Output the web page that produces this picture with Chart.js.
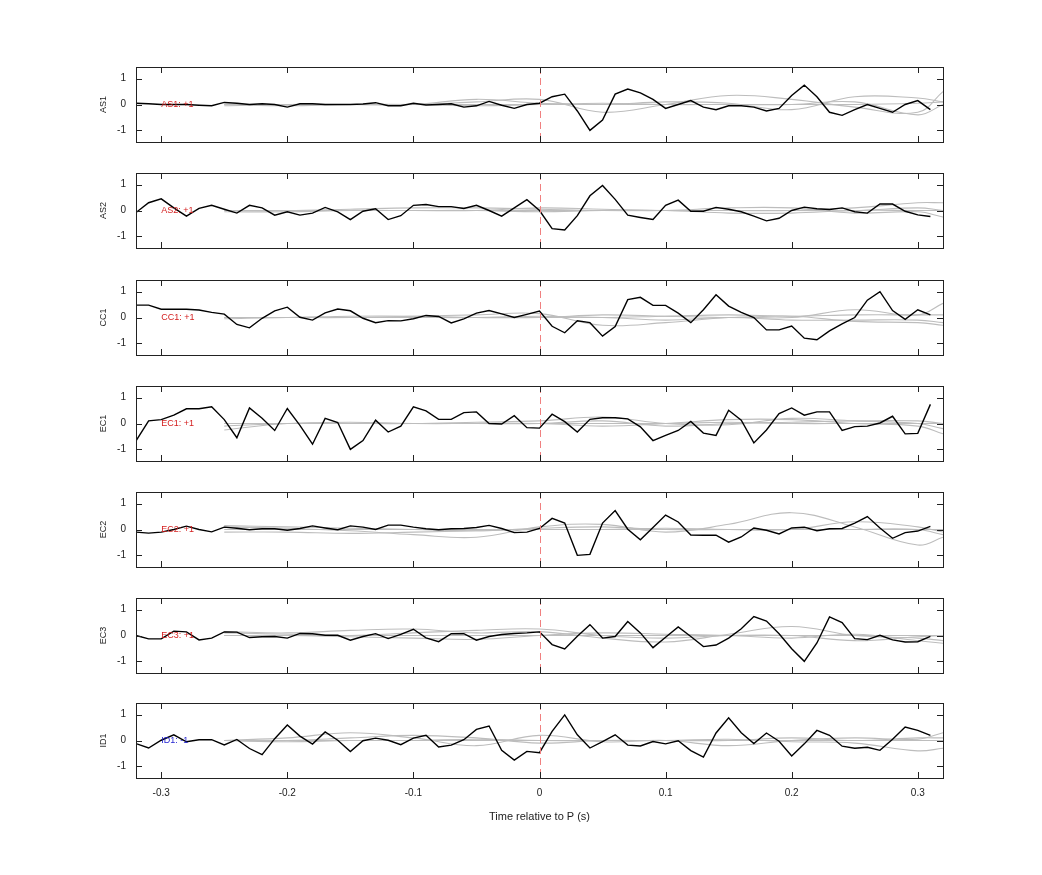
<!DOCTYPE html>
<html>
<head>
<meta charset="utf-8">
<script src="https://cdn.jsdelivr.net/npm/chart.js@4"></script>
<style>
  body { margin:0; background:#fff; width:1042px; height:875px; position:relative; overflow:hidden; }
  .pane { position:absolute; left:0; width:1042px; }
</style>
</head>
<body>
<script>
// ── DATA ─────────────────────────────
const TIME = [-0.32,-0.31,-0.30,-0.29,-0.28,-0.27,-0.26,-0.25,-0.24,-0.23,
  -0.22,-0.21,-0.20,-0.19,-0.18,-0.17,-0.16,-0.15,-0.14,-0.13,
  -0.12,-0.11,-0.10,-0.09,-0.08,-0.07,-0.06,-0.05,-0.04,-0.03,
  -0.02,-0.01,0.00,0.01,0.02,0.03,0.04,0.05,0.06,0.07,
  0.08,0.09,0.10,0.11,0.12,0.13,0.14,0.15,0.16,0.17,
  0.18,0.19,0.20,0.21,0.22,0.23,0.24,0.25,0.26,0.27,
  0.28,0.29,0.30,0.31];
const GRAY_T = [-0.25,-0.20,-0.15,-0.10,-0.05,0.00,0.05,0.10,0.15,0.20,0.25,0.30,0.32];
const X_TICKS = [-0.3,-0.2,-0.1,0,0.1,0.2,0.3];
const Y_TICKS = [-1,0,1];

const NAMES  = ['AS1','AS2','CC1','EC1','EC2','EC3','ID1'];
const LABELS = ['AS1: +1','AS2: +1','CC1: +1','EC1: +1','EC2: +1','EC3: +1','ID1: -1'];

const AS1 = [0.05,0.03,0,0,0,-0.03,-0.05,0.08,0.05,0,
  0.03,0,-0.1,0.03,0.03,0,0,0,0.02,0.07,
  -0.05,-0.05,0.05,-0.02,0,0.03,-0.1,-0.05,0.12,-0.03,
  -0.15,0,0.05,0.3,0.4,-0.25,-1.0,-0.6,0.4,0.6,
  0.45,0.2,-0.15,0,0.15,-0.1,-0.2,-0.05,-0.05,-0.1,
  -0.25,-0.15,0.35,0.75,0.3,-0.3,-0.42,-0.2,0,-0.15,
  -0.3,0,0.15,-0.2];
const AS2 = [-0.08,0.3,0.45,0.1,-0.22,0.08,0.2,0.05,-0.1,0.2,
  0.1,-0.18,-0.05,-0.18,-0.1,0.12,-0.05,-0.35,-0.03,0.07,
  -0.35,-0.2,0.2,0.23,0.15,0.15,0.08,0.2,0,-0.22,
  0.1,0.42,0,-0.7,-0.75,-0.2,0.57,0.97,0.43,-0.18,
  -0.27,-0.35,0.2,0.4,-0.03,-0.03,0.12,0.05,-0.05,-0.22,
  -0.4,-0.3,0,0.13,0.07,0.04,0.1,-0.05,-0.1,0.25,
  0.25,-0.03,-0.17,-0.23];
const CC1 = [0.48,0.48,0.32,0.32,0.32,0.29,0.2,0.13,-0.27,-0.4,
  -0.03,0.26,0.4,0.01,-0.1,0.18,0.33,0.26,-0.03,-0.2,
  -0.12,-0.13,-0.05,0.08,0.04,-0.21,-0.05,0.17,0.27,0.14,
  0,0.12,0.25,-0.34,-0.59,-0.13,-0.2,-0.72,-0.35,0.69,
  0.78,0.47,0.47,0.17,-0.2,0.3,0.88,0.44,0.2,0,
  -0.48,-0.48,-0.33,-0.8,-0.86,-0.52,-0.25,0,0.67,1.0,
  0.27,-0.07,0.3,0.1];
const EC1 = [-0.67,0.1,0.15,0.32,0.57,0.57,0.65,0.15,-0.55,0.6,
  0.2,-0.27,0.58,-0.07,-0.8,0.2,0.04,-1.0,-0.66,0.13,
  -0.33,-0.1,0.64,0.49,0.16,0.16,0.42,0.45,0,-0.02,
  0.3,-0.16,-0.18,0.36,0.07,-0.33,0.16,0.22,0.22,0.18,
  -0.13,-0.66,-0.46,-0.27,0.08,-0.37,-0.46,0.51,0.13,-0.75,
  -0.25,0.38,0.6,0.32,0.45,0.45,-0.27,-0.12,-0.1,0.02,
  0.28,-0.4,-0.38,0.74];
const EC2 = [-0.1,-0.14,-0.1,0,0.13,0,-0.09,0.09,0.05,-0.01,
  0.03,0.03,-0.03,0.04,0.14,0.06,-0.01,0.14,0.09,0,
  0.17,0.17,0.09,0.03,-0.01,0.03,0.04,0.08,0.16,0.04,
  -0.12,-0.1,0.04,0.43,0.25,-1.0,-0.96,0.25,0.73,0.01,
  -0.4,0.08,0.56,0.29,-0.21,-0.22,-0.22,-0.49,-0.29,0.06,
  -0.03,-0.17,0.06,0.09,-0.05,0.03,0.04,0.25,0.5,0.06,
  -0.34,-0.12,-0.06,0.12];
const EC3 = [0,-0.13,-0.13,0.17,0.14,-0.17,-0.1,0.14,0.13,-0.08,
  -0.05,-0.04,-0.1,0.08,0.07,0.01,0.01,-0.18,-0.04,0.07,
  -0.12,0.04,0.24,-0.09,-0.24,0.07,0.07,-0.18,-0.04,0.04,
  0.08,0.1,0.14,-0.35,-0.52,-0.03,0.42,-0.1,-0.04,0.54,
  0.1,-0.47,-0.07,0.33,-0.04,-0.43,-0.37,-0.1,0.26,0.73,
  0.56,0.07,-0.51,-1.0,-0.29,0.72,0.5,-0.12,-0.16,0.01,
  -0.17,-0.25,-0.24,-0.03];
const ID1 = [-0.12,-0.29,0.01,0.22,-0.05,0.03,0.03,-0.17,0.04,-0.31,
  -0.55,0.07,0.6,0.17,-0.14,0.33,0.01,-0.43,-0.01,0.09,
  0.01,-0.16,0.09,0.2,-0.25,-0.18,0.03,0.43,0.56,-0.38,
  -0.76,-0.42,-0.47,0.35,0.99,0.22,-0.29,-0.04,0.22,-0.18,
  -0.21,-0.04,-0.13,-0.01,-0.39,-0.64,0.29,0.88,0.3,-0.12,
  0.29,-0.03,-0.6,-0.13,0.39,0.2,-0.22,-0.3,-0.26,-0.38,
  0.05,0.52,0.39,0.2];
const MAIN = [AS1,AS2,CC1,EC1,EC2,EC3,ID1];

// gray traces (smooth), sampled at GRAY_T
const GRAYS = [
  [[-0.05,0,0,0,0.1,0.2,-0.3,0,0.35,0.2,-0.1,-0.3,0.5],
   [0,0,0,0,0.2,0.05,0,0.1,0.05,-0.2,0.3,0.25,0.1],
   [0,-0.05,0,0,-0.05,0,0.05,0,0,0,0.1,-0.4,0],
   [0,0,0,0,0,0,0,0,0,0,0,0.05,0.1]],
  [[0,0,0.05,0.1,0.1,0.05,0,0,0,0,0.1,0.3,0.3],
   [-0.05,-0.05,0,0,0,0.1,0.05,0,0,0,0,0.1,0],
   [0,0,0,0,0,-0.05,0,0,0.1,0.1,-0.1,-0.05,-0.25],
   [0,0,0,0,0,0,0,0,-0.1,-0.1,0,0,0]],
  [[0,0,0,0.05,0.1,0.15,-0.3,-0.2,0,0,0.3,0.1,0.55],
   [0,0,0.05,0.05,0,0,0.1,0.05,0,0.05,-0.15,-0.2,-0.3],
   [0,0,0,0,0,0.05,0,0.05,0.1,0.05,0.1,0.1,0.1],
   [-0.05,0,0,0,0,0,0,-0.1,0,-0.1,-0.1,-0.1,-0.2]],
  [[-0.25,0,0,0,0.05,0.1,0.25,0,-0.05,0.2,0.1,0,-0.2],
   [-0.1,0,0.05,0,0,0,-0.1,0,0.15,0.15,0,-0.1,-0.4],
   [0,0,0,0,0,0,0.1,-0.1,0,0.05,0.1,0.1,0],
   [0,0,0,0,0,0,0,0,0.05,0,0,0,0]],
  [[0.1,0.05,-0.05,-0.2,-0.3,0.1,0.2,-0.1,0.2,0.65,0.1,-0.6,-0.3],
   [0.15,0.1,0.05,0,-0.05,0.05,0.1,0,0,0,0.3,0.1,-0.1],
   [-0.1,-0.1,-0.15,-0.1,-0.05,0,0,0.05,0,0,0,0,-0.2],
   [0,0,0,0,0,0,0,0,0,0,0,0,0]],
  [[0.15,0.1,0.2,0.25,0.1,0.15,-0.1,-0.25,0.05,0.35,0,-0.1,-0.2],
   [0.1,0.05,0,0.1,0.2,0.25,0,-0.1,0,0,-0.2,-0.05,0],
   [0,0,-0.05,-0.1,-0.15,0,0.1,0.05,0,-0.1,0.05,-0.2,-0.3],
   [0,0,0,0,0,0,0,0,0,0,0,0,0]],
  [[0,0.1,0.3,0.1,-0.2,0.2,-0.05,0,-0.2,0,0.1,0.05,0.3],
   [0,0,0.1,0.2,0.1,-0.1,0,0,0.05,-0.05,-0.1,-0.4,-0.3],
   [0,-0.05,0,0,0.05,0,0,0,0,0.1,0,0.1,0.1],
   [0,0,0,0,0,0,0,0,0,0,0,0,0]]
];

// ── LAYOUT ─────────────────────────────
const TOPS = [67,173,280,386,492,598,703];
const PH = 75, PAD = 6, OVER = 2, BOTTOM_H = 50;
const FONT = '"Liberation Sans", Arial, sans-serif';

// frame with inward ticks, dashed zero line, trace label
const framePlugin = {
  id:'frame',
  afterDatasetsDraw(chart, args, opts) {
    const {ctx, chartArea:a, scales:{x,y}} = chart;
    ctx.save();
    // dashed zero line
    ctx.strokeStyle = '#f08080'; ctx.lineWidth = 1; ctx.setLineDash([7,4]);
    const zx = Math.round(x.getPixelForValue(0)) + 0.5;
    ctx.beginPath(); ctx.moveTo(zx, a.top); ctx.lineTo(zx, a.bottom); ctx.stroke();
    ctx.setLineDash([]);
    // box
    ctx.strokeStyle = '#222'; ctx.lineWidth = 1;
    ctx.strokeRect(Math.round(a.left)+0.5, Math.round(a.top)+0.5, Math.round(a.right-a.left), Math.round(a.bottom-a.top));
    ctx.beginPath();
    X_TICKS.forEach(v => {
      const px = Math.round(x.getPixelForValue(v)) + 0.5;
      ctx.moveTo(px, a.bottom); ctx.lineTo(px, a.bottom-6);
      ctx.moveTo(px, a.top); ctx.lineTo(px, a.top+6);
    });
    Y_TICKS.forEach(v => {
      const py = Math.round(y.getPixelForValue(v)) + 0.5;
      ctx.moveTo(a.left, py); ctx.lineTo(a.left+6, py);
      ctx.moveTo(a.right, py); ctx.lineTo(a.right-6, py);
    });
    ctx.stroke();
    // label
    ctx.fillStyle = opts.color; ctx.font = '9px ' + FONT;
    ctx.textAlign = 'left'; ctx.textBaseline = 'middle';
    ctx.fillText(opts.text, x.getPixelForValue(-0.3), y.getPixelForValue(0));
    ctx.restore();
  }
};

NAMES.forEach((name, i) => {
  const last = i === NAMES.length - 1;
  const h = PH + (PAD + OVER) * 2 + (last ? BOTTOM_H - PAD - OVER : 0);
  const cv = document.createElement('canvas');
  cv.className = 'pane';
  cv.style.top = (TOPS[i] - PAD - OVER) + 'px';
  cv.style.height = h + 'px';
  cv.width = 1042; cv.height = h;
  document.body.appendChild(cv);

  const datasets = [{
    data: TIME.map((t, k) => ({x:t, y:MAIN[i][k]})),
    borderColor:'#000', borderWidth:1.4, pointRadius:0, tension:0
  }];
  GRAYS[i].forEach(g => datasets.push({
    data: GRAY_T.map((t, k) => ({x:t, y:g[k]})),
    borderColor:'#bdbdbd', borderWidth:1.1, pointRadius:0, tension:0.4
  }));

  new Chart(cv, {
    type:'line',
    data:{datasets},
    options:{
      responsive:false, animation:false, events:[],
      layout:{padding:{left:98, right:99, top:PAD, bottom:last ? 0 : PAD}},
      plugins:{
        legend:{display:false}, tooltip:{enabled:false},
        frame:{text:LABELS[i], color: i === 6 ? '#1f1fd0' : '#d42020'}
      },
      scales:{
        x:{
          type:'linear', min:-0.32, max:0.32,
          afterBuildTicks: s => { s.ticks = X_TICKS.map(v => ({value:v})); },
          afterFit: s => { s.height = last ? BOTTOM_H : 0; },
          grid:{display:false}, border:{display:false},
          ticks:{display:last, padding:1, color:'#222', font:{family:FONT, size:10},
                 callback: v => String(v)},
          title:{display:last, text:'Time relative to P (s)', color:'#222',
                 font:{family:FONT, size:11}, padding:{top:0}}
        },
        y:{
          min:-1.45, max:1.45,
          afterBuildTicks: s => { s.ticks = Y_TICKS.map(v => ({value:v})); },
          afterFit: s => { s.width = 38; },
          grid:{display:false}, border:{display:false},
          ticks:{color:'#222', padding:2, font:{family:FONT, size:10}},
          title:{display:true, text:name, color:'#222', font:{family:FONT, size:9}, padding:0}
        }
      }
    },
    plugins:[framePlugin]
  });
});
</script>
</body>
</html>
